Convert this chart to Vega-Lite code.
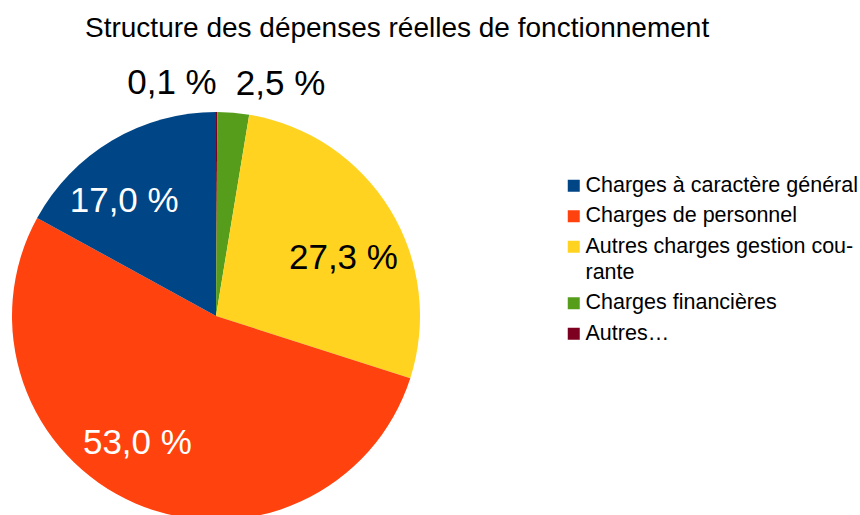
{
  "$schema": "https://vega.github.io/schema/vega-lite/v6.json",
  "width": 432,
  "height": 512,
  "autosize": {"type": "none"},
  "padding": {"top": 60, "left": 0, "right": 428, "bottom": 0},
  "background": "white",
  "config": {
    "style": {"guide-label": {"lineHeight": 26}}
  },
  "title": {
    "text": "Structure des dépenses réelles de fonctionnement",
    "anchor": "start",
    "frame": "group",
    "dx": 85,
    "offset": 17,
    "limit": 800,
    "font": "Liberation Sans",
    "fontSize": 28,
    "fontWeight": "normal",
    "color": "#000000"
  },
  "data": {
    "values": [
      {"cat": "Autres…", "pct": 0.1, "ord": 1, "label": "0,1 %"},
      {"cat": "Charges financières", "pct": 2.5, "ord": 2, "label": "2,5 %"},
      {"cat": "Autres charges gestion courante", "pct": 27.3, "ord": 3, "label": "27,3 %"},
      {"cat": "Charges de personnel", "pct": 53.0, "ord": 4, "label": "53,0 %"},
      {"cat": "Charges à caractère général", "pct": 17.0, "ord": 5, "label": "17,0 %"}
    ]
  },
  "encoding": {
    "theta": {"field": "pct", "type": "quantitative", "stack": true},
    "order": {"field": "ord", "type": "quantitative"}
  },
  "layer": [
    {
      "mark": {"type": "arc", "outerRadius": 204, "stroke": null},
      "encoding": {
        "color": {
          "field": "cat",
          "type": "nominal",
          "scale": {
            "domain": ["Charges à caractère général", "Charges de personnel", "Autres charges gestion courante", "Charges financières", "Autres…"],
            "range": ["#004586", "#ff420e", "#ffd320", "#579d1c", "#7e0021"]
          },
          "legend": {
            "title": null,
            "orient": "none",
            "legendX": 563,
            "legendY": 115,
            "padding": 0,
            "symbolType": "square",
            "symbolSize": 144,
            "symbolStrokeWidth": 0,
            "labelFont": "Liberation Sans",
            "labelFontSize": 21.5,
            "labelColor": "#000000",
            "labelOffset": 1,
            "labelLimit": 400,
            "rowPadding": 7.5,
            "labelExpr": "datum.label == 'Autres charges gestion courante' ? ['Autres charges gestion cou-', 'rante'] : datum.label",
            "encode": {"labels": {"update": {"lineHeight": {"value": 26}}}}
          }
        }
      }
    },
    {
      "mark": {"type": "text", "radius": 140, "thetaOffset": 0.122, "font": "Liberation Sans", "fontSize": 35, "color": "#000000"},
      "encoding": {"text": {"condition": {"test": "datum.ord == 3", "field": "label"}, "value": ""}}
    },
    {
      "mark": {"type": "text", "radius": 149, "thetaOffset": 0.15, "font": "Liberation Sans", "fontSize": 35, "color": "#ffffff"},
      "encoding": {"text": {"condition": {"test": "datum.ord == 4", "field": "label"}, "value": ""}}
    },
    {
      "mark": {"type": "text", "radius": 147, "thetaOffset": -0.14, "font": "Liberation Sans", "fontSize": 35, "color": "#ffffff"},
      "encoding": {"text": {"condition": {"test": "datum.ord == 5", "field": "label"}, "value": ""}}
    },
    {
      "mark": {"type": "text", "radius": 233, "align": "right", "font": "Liberation Sans", "fontSize": 35, "color": "#000000"},
      "encoding": {"text": {"condition": {"test": "datum.ord == 1", "field": "label"}, "value": ""}}
    },
    {
      "mark": {"type": "text", "radius": 233, "align": "left", "font": "Liberation Sans", "fontSize": 35, "color": "#000000"},
      "encoding": {"text": {"condition": {"test": "datum.ord == 2", "field": "label"}, "value": ""}}
    }
  ]
}
